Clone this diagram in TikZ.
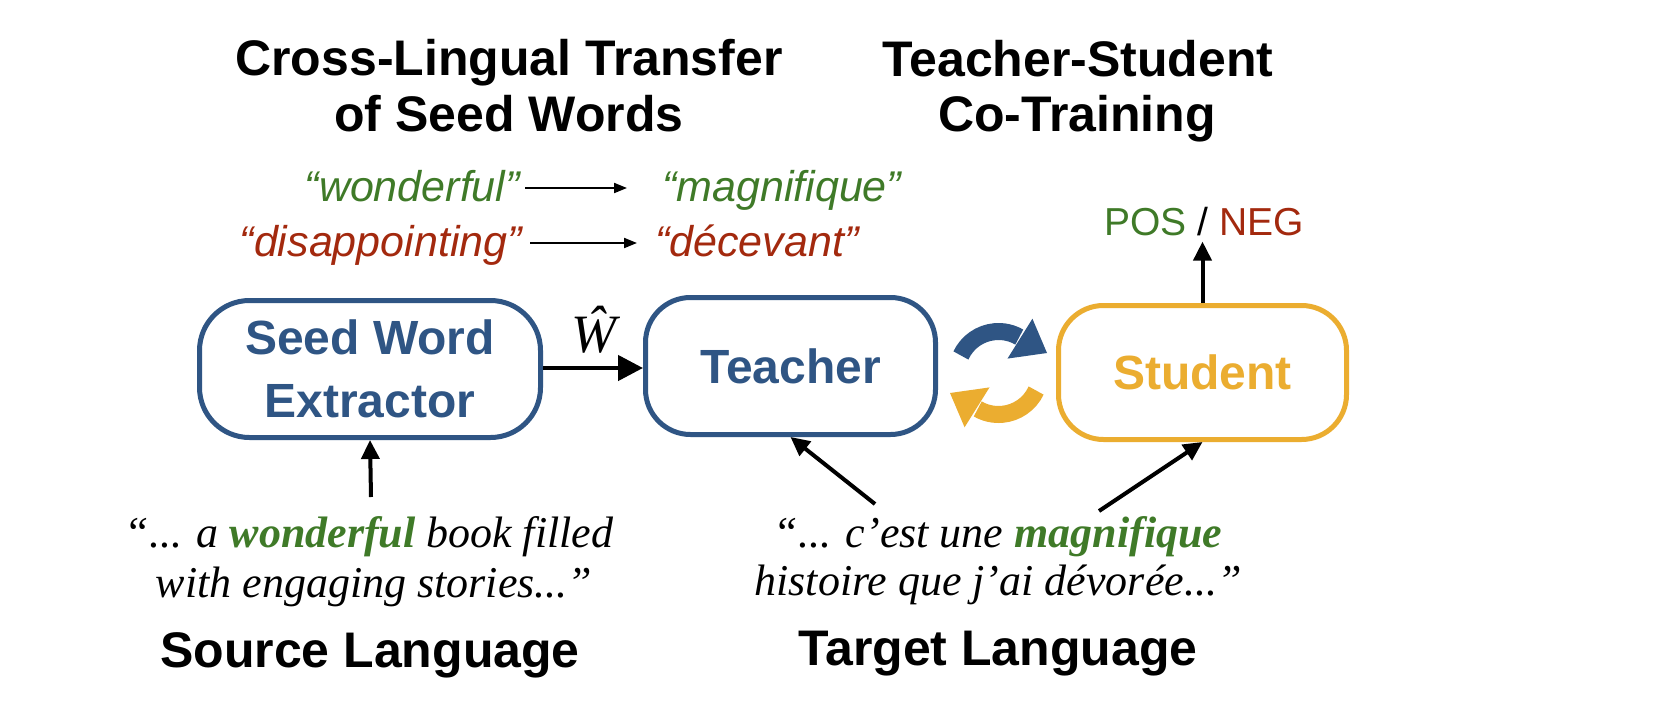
\documentclass[tikz,border=0pt]{standalone}
\usepackage{fontspec}
\setmainfont{Liberation Serif}
\newfontfamily\hv{Liberation Sans}
\usetikzlibrary{arrows.meta}
\definecolor{myblue}{HTML}{2F5584}
\definecolor{mygold}{HTML}{EBAD30}
\definecolor{mygreen}{HTML}{3F7A28}
\definecolor{myred}{HTML}{A3290E}
\begin{document}
\begin{tikzpicture}[x=1pt,y=1pt,
  box/.style={draw, line width=5pt, rounded corners=45pt, inner sep=0pt, align=center,
    font=\hv\bfseries\fontsize{48}{63}\selectfont},
  title/.style={anchor=base, inner sep=0pt, font=\hv\bfseries\fontsize{50}{57}\selectfont},
  seedw/.style={anchor=base, inner sep=0pt, font=\hv\itshape\fontsize{43}{50}\selectfont},
  sent/.style={anchor=base, inner sep=0pt, font=\itshape\fontsize{44}{50}\selectfont},
  arr/.style={line width=4pt, -{Triangle[length=19pt,width=18pt]}},
  thinarr/.style={line width=2pt, -{Triangle[length=13pt,width=10pt]}},
]
\fill[white] (0,0) rectangle (1665,-728);
\useasboundingbox (0,0) rectangle (1665,-728);

% titles
\node[title] (t1a) at (509,-75) {Cross-Lingual Transfer};
\node[title] (t1b) at (509,-131) {of Seed Words};
\node[title] (t2a) at (1078,-76) {Teacher-Student};
\node[title] (t2b) at (1077,-131) {Co-Training};

% seed words
\node[seedw, anchor=base east, text=mygreen] (w1) at (520,-201) {“wonderful”};
\node[seedw, anchor=base west, text=mygreen] (m1) at (662,-201) {“magnifique”};
\node[seedw, anchor=base east, text=myred] (d1) at (522,-256) {“disappointing”};
\node[seedw, anchor=base west, text=myred] (d2) at (655,-256) {“décevant”};
\draw[thinarr] ([xshift=5pt]w1.east |- 0,-188) -- ([xshift=-35pt]m1.west |- 0,-188);
\draw[thinarr] ([xshift=8pt]d1.east |- 0,-243) -- ([xshift=-18pt]d2.west |- 0,-243);

% boxes
\node[box, draw=myblue, text=myblue, minimum width=341pt, minimum height=137pt, rounded corners=50pt] (ext) at (370,-369) {Seed Word\\Extractor};
\node[box, draw=myblue, text=myblue, minimum width=290pt, minimum height=137pt] (tea) at (790.5,-366) {Teacher};
\node[box, draw=mygold, text=mygold, minimum width=288pt, minimum height=134pt] (stu) at (1202.5,-372.5) {Student};

% W hat arrow
\draw[line width=4.5pt, -{Triangle[length=25pt,width=25pt]}] (ext.east |- 0,-368) -- (tea.west |- 0,-368);
\node[anchor=base, inner sep=0pt, font=\itshape\fontsize{54}{56}\selectfont] (what) at (594,-352) {Ŵ};

% cycle arrows
\coordinate (c) at (998.5,-373);
\draw[myblue, line width=17pt] ([shift={(998.5,-373)}]155:41.5) arc[start angle=155, end angle=60, radius=41.5];
\fill[myblue] ([shift={(998.5,-373)}]58:17) -- ([shift={(998.5,-373)}]58:64) -- (1047,-353) -- cycle;
\draw[mygold, line width=17pt] ([shift={(998.5,-373)}]-25:41.5) arc[start angle=-25, end angle=-120, radius=41.5];
\fill[mygold] ([shift={(998.5,-373)}]-122:17) -- ([shift={(998.5,-373)}]-122:64) -- (950,-393) -- cycle;

% output
\node[anchor=base, inner sep=0pt, font=\hv\fontsize{39}{45}\selectfont] (pn) at (1204,-235) {\textcolor{mygreen}{POS} / \textcolor{myred}{NEG}};
\draw[arr, shorten >=6pt] (stu.north) -- (stu.north |- pn.south);

% sentences
\node[sent] (s1) at (369,-547) {“... a \textcolor{mygreen}{\bfseries wonderful} book filled};
\node[sent] (s2) at (374,-597) {with engaging stories...”};
\node[sent] (f1) at (998,-547) {“... c’est une \textcolor{mygreen}{\bfseries magnifique}};
\node[sent] (f2) at (998,-595) {histoire que j’ai dévorée...”};
\node[title] (src) at (370,-667) {Source Language};
\node[title] (tgt) at (998,-665) {Target Language};

\coordinate (a1) at (371,-497);
\coordinate (a2) at (875,-504);
\coordinate (a3) at (1099,-511);
\draw[arr] (a1) -- (ext.south);
\draw[arr] (a2) -- (tea.south);
\draw[arr] (a3) -- (stu.south);
\end{tikzpicture}
\end{document}
